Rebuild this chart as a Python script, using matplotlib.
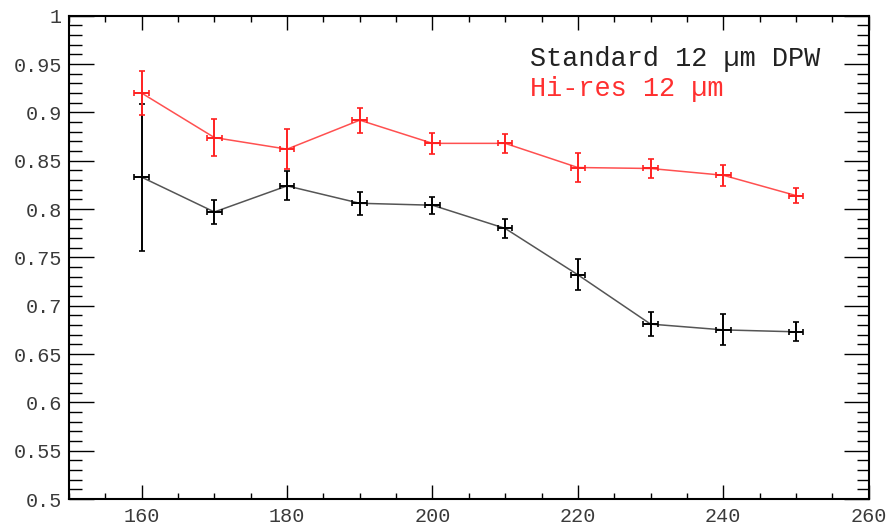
import numpy as np
import matplotlib.pyplot as plt
from matplotlib.ticker import MultipleLocator, FixedLocator, FuncFormatter

plt.rcParams['font.family'] = ['Liberation Mono', 'DejaVu Sans Mono']

# Data
x = np.array([160, 170, 180, 190, 200, 210, 220, 230, 240, 250])
x_err = np.array([1, 1, 1, 1, 1, 1, 1, 1, 1, 1])

std_eff = np.array([0.833, 0.797, 0.824, 0.806, 0.804, 0.780, 0.732, 0.681, 0.675, 0.673])
std_err = np.array([0.076, 0.012, 0.015, 0.012, 0.009, 0.010, 0.016, 0.012, 0.016, 0.010])

hires_eff = np.array([0.920, 0.874, 0.862, 0.892, 0.868, 0.868, 0.843, 0.842, 0.835, 0.814])
hires_err = np.array([0.023, 0.019, 0.021, 0.013, 0.011, 0.010, 0.015, 0.010, 0.011, 0.008])

fig = plt.figure(figsize=(8.9, 5.26), dpi=100)
ax = fig.add_axes([0.0775, 0.0513, 0.8985, 0.9187])

# connecting lines
ax.plot(x, std_eff, color='#555555', lw=1.1, zorder=2)
ax.plot(x, hires_eff, color='#ff5050', lw=1.1, zorder=2)

# error bars
ax.errorbar(x, std_eff, yerr=std_err, xerr=x_err, fmt='none', ecolor='black',
            elinewidth=1.4, capsize=2, capthick=1.2, zorder=3)
ax.errorbar(x, hires_eff, yerr=hires_err, xerr=x_err, fmt='none', ecolor='#ff2020',
            elinewidth=1.4, capsize=2, capthick=1.2, zorder=3)

ax.set_xlim(150, 260)
ax.set_ylim(0.5, 1.0)

ax.xaxis.set_major_locator(FixedLocator([160, 180, 200, 220, 240, 260]))
ax.xaxis.set_minor_locator(MultipleLocator(5))
ax.yaxis.set_major_locator(MultipleLocator(0.05))
ax.yaxis.set_minor_locator(MultipleLocator(0.01))
ax.yaxis.set_major_formatter(FuncFormatter(lambda v, p: f'{v:g}'))

ax.tick_params(axis='x', which='major', direction='in', top=True, length=10, width=1,
               pad=6, labelsize=14.5, labelcolor='#3a3a3a')
ax.tick_params(axis='x', which='minor', direction='in', top=True, length=4.5, width=1)
ax.tick_params(axis='y', which='major', direction='in', right=True, length=18, width=1,
               pad=5, labelsize=14.5, labelcolor='#3a3a3a')
ax.tick_params(axis='y', which='minor', direction='in', right=True, length=9, width=1)

for s in ax.spines.values():
    s.set_linewidth(1.5)

ax.text(0.576, 0.91, 'Standard 12 \u00b5m DPW', transform=ax.transAxes,
        fontsize=19.4, color='#222222', va='center')
ax.text(0.576, 0.848, 'Hi-res 12 \u00b5m', transform=ax.transAxes,
        fontsize=19.4, color='#ff3030', va='center')

fig.savefig('out.png', dpi=100)
